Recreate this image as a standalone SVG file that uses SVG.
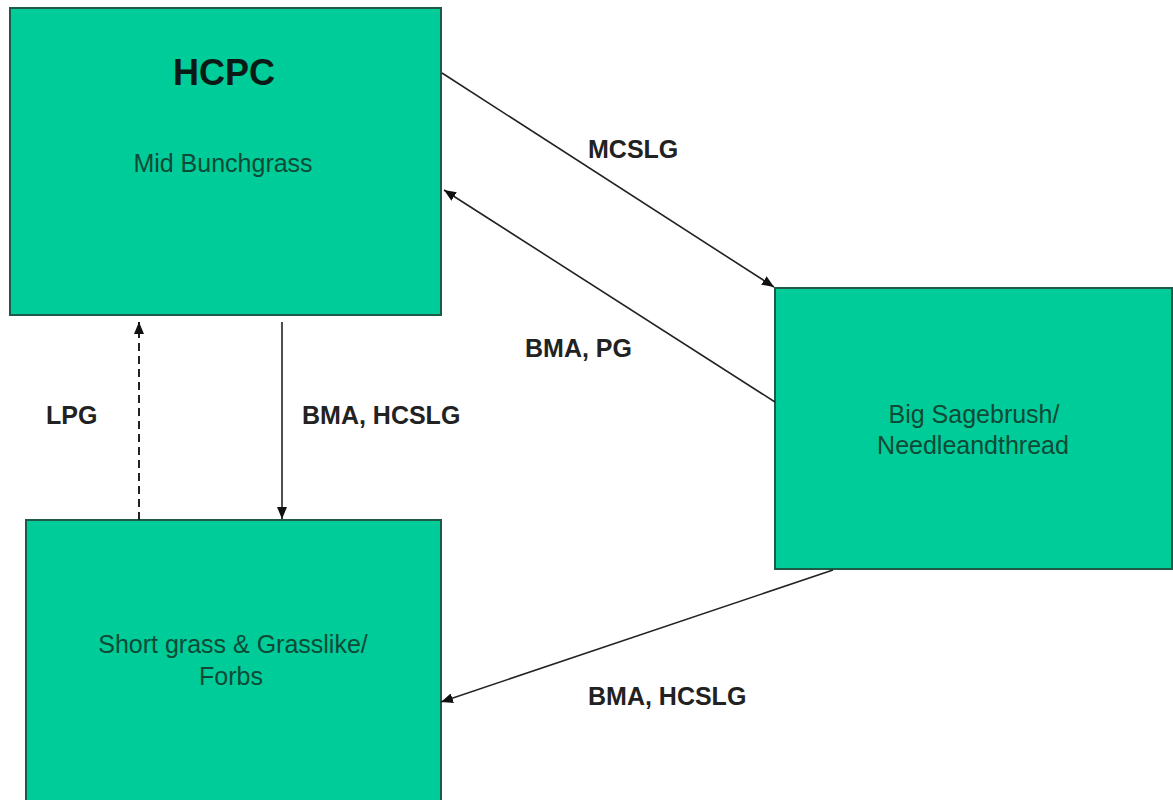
<svg xmlns="http://www.w3.org/2000/svg" width="1173" height="800" viewBox="0 0 1173 800">
<style>
.box{fill:#00CC99;stroke:#1f5a48;stroke-width:2}
.nt{font-family:"Liberation Sans",Arial,sans-serif;font-size:25px;fill:#0e4a36;text-anchor:middle}
.title{font-family:"Liberation Sans",Arial,sans-serif;font-size:36px;font-weight:bold;fill:#0a1a14;text-anchor:middle}
.lbl{font-family:"Liberation Sans",Arial,sans-serif;font-size:25px;font-weight:bold;fill:#222}
.con{stroke:#222;stroke-width:1.6;fill:none}
.dash{stroke-dasharray:8 5;stroke-width:2}
</style>
<defs>
<marker id="ah" viewBox="0 0 12 10" refX="12" refY="5" markerWidth="12" markerHeight="10" markerUnits="userSpaceOnUse" orient="auto">
<path d="M0,0 L12,5 L0,10 Z" fill="#111"/>
</marker>
</defs>
<rect width="1173" height="800" fill="#ffffff"/>
<g id="hcpc">
<rect class="box" x="10" y="8" width="431" height="307"/>
<text class="title" x="224" y="85">HCPC</text>
<text class="nt" x="223" y="172">Mid Bunchgrass</text>
</g>
<g id="sagebrush">
<rect class="box" x="775" y="288" width="397" height="281"/>
<text class="nt" x="974" y="423">Big Sagebrush/</text>
<text class="nt" x="973" y="454">Needleandthread</text>
</g>
<g id="shortgrass">
<rect class="box" x="26" y="520" width="415" height="290"/>
<text class="nt" x="233" y="653">Short grass &amp; Grasslike/</text>
<text class="nt" x="231" y="685">Forbs</text>
</g>
<g id="connectors">
<line class="con" x1="442" y1="73" x2="774" y2="287" marker-end="url(#ah)"/>
<line class="con" x1="775" y1="402" x2="444" y2="190" marker-end="url(#ah)"/>
<line class="con dash" x1="139" y1="520" x2="139" y2="322" marker-end="url(#ah)"/>
<line class="con" x1="282" y1="322" x2="282" y2="519" marker-end="url(#ah)"/>
<line class="con" x1="833" y1="570" x2="441" y2="702" marker-end="url(#ah)"/>
<text class="lbl" x="588" y="158">MCSLG</text>
<text class="lbl" x="525" y="357">BMA, PG</text>
<text class="lbl" x="46" y="424">LPG</text>
<text class="lbl" x="302" y="424">BMA, HCSLG</text>
<text class="lbl" x="588" y="705">BMA, HCSLG</text>
</g>
</svg>
